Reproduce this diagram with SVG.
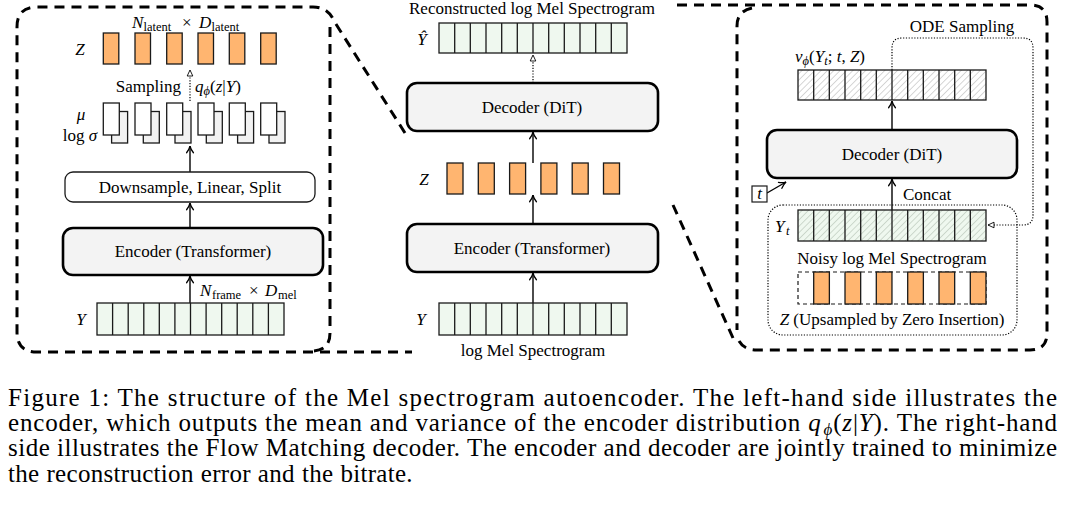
<svg xmlns="http://www.w3.org/2000/svg" width="1074" height="507" viewBox="0 0 1074 507">
<style>
.t{font-family:"Liberation Serif","Times New Roman",serif;font-size:17px;fill:#000}
.i{font-style:italic}
.s{font-size:12.5px}
.cap{font-family:"Liberation Serif","Times New Roman",serif;font-size:25px;fill:#000}
.panel{fill:none;stroke:#000;stroke-width:3;stroke-dasharray:10 7}
.cell{stroke:#1a1a1a;stroke-width:1.3}
.green{fill:#EFF8EF}
.orange{fill:#FFB570;stroke:#1a1a1a;stroke-width:1.3}
.big{fill:#F3F3F3;stroke:#000;stroke-width:2.6}
.div{fill:none;stroke:#1a1a1a;stroke-width:1.3}
.arr{fill:none;stroke:#000;stroke-width:1.4;marker-end:url(#arr)}
.dot{fill:none;stroke:#000;stroke-width:1.2;stroke-dasharray:1.2 1.6}
.dota{fill:none;stroke:#000;stroke-width:1.2;stroke-dasharray:1.2 1.6;marker-end:url(#tri)}
</style>
<defs>
<marker id="arr" viewBox="0 0 10 10" refX="9.5" refY="5" markerWidth="9" markerHeight="9" orient="auto" markerUnits="userSpaceOnUse">
<path d="M2,1.2 Q6,4.2 9.5,5 Q6,5.8 2,8.8" fill="none" stroke="#000" stroke-width="1.4" stroke-linecap="round"/>
</marker>
<marker id="tri" viewBox="0 0 10 10" refX="9" refY="5" markerWidth="8" markerHeight="8" orient="auto" markerUnits="userSpaceOnUse">
<path d="M1.5,1.5 L9,5 L1.5,8.5 Z" fill="#fff" stroke="#000" stroke-width="1.1"/>
</marker>
<pattern id="hatch" width="4.5" height="4.5" patternUnits="userSpaceOnUse" patternTransform="rotate(45)">
<line x1="0" y1="0" x2="0" y2="4.5" stroke="#9a9a9a" stroke-width="0.8"/>
</pattern>
<pattern id="hatchg" width="4.5" height="4.5" patternUnits="userSpaceOnUse" patternTransform="rotate(45)">
<line x1="0" y1="0" x2="0" y2="4.5" stroke="#9aa89a" stroke-width="0.8"/>
</pattern>
</defs>

<g id="panels">
<path class="panel" d="M405,133 L334,21 Q328,7 313,7 H37 Q17,7 17,27 V332 Q17,352 37,352 H412"/>
<path class="panel" d="M330,27 V333 Q330,350 313,351"/>
<path class="panel" d="M677,5 H1030 Q1047,5 1047,22 V333 Q1047,350 1030,350 H757 Q741,350 737,336"/>
<path class="panel" d="M752,8 Q737,11 737,26 V330"/>
<path class="panel" d="M673,205 L733,338"/>
</g>

<g id="connectors">
<path class="arr" d="M190,303 V276"/>
<path class="arr" d="M190,228 V203"/>
<path class="arr" d="M190,172 V146"/>
<path class="dota" d="M190,101 V70"/>
<path class="arr" d="M533,303 V273"/>
<path class="arr" d="M533,224 V195"/>
<path class="arr" d="M533,163 V132"/>
<path class="dota" d="M533,83 V55"/>
<path class="arr" d="M892,210 V179"/>
<path class="arr" d="M892,130 V101"/>
<path class="arr" d="M767,193 L786,182"/>
<path class="dota" d="M892,70 V48 Q892,38 902,38 H1023 Q1033,38 1033,48 V215 Q1033,225 1023,225 H988"/>
</g>

<g id="left-latent">
<text class="t"><tspan x="132" y="28" class="i">N</tspan><tspan x="143.5" y="31" class="s">latent</tspan><tspan x="182" y="28">×</tspan><tspan x="199" y="28" class="i">D</tspan><tspan x="211.5" y="31" class="s">latent</tspan></text>
<text class="t i" x="80" y="55" text-anchor="middle">Z</text>
<rect class="orange" x="103.3" y="33" width="15.5" height="31"/>
<rect class="orange" x="135" y="33" width="15.5" height="31"/>
<rect class="orange" x="166.7" y="33" width="15.5" height="31"/>
<rect class="orange" x="198" y="33" width="15.5" height="31"/>
<rect class="orange" x="229.3" y="33" width="15.5" height="31"/>
<rect class="orange" x="260.7" y="33" width="15.5" height="31"/>
</g>

<g id="left-sampling">
<text class="t" x="181" y="92" text-anchor="end">Sampling</text>
<text class="t" x="195" y="92"><tspan class="i">q</tspan><tspan class="s i" dy="3">ϕ</tspan><tspan dy="-3">(</tspan><tspan class="i">z</tspan>|<tspan class="i">Y</tspan>)</text>
</g>

<g id="left-musigma">
<text class="t i" x="81" y="120" text-anchor="middle">μ</text>
<text class="t" x="80" y="141" text-anchor="middle">log <tspan class="i">σ</tspan></text>
<g fill="#F2F2F2" stroke="#1a1a1a" stroke-width="1.3">
<rect x="111.6" y="111.5" width="16" height="31.5"/>
<rect x="143.3" y="111.5" width="16" height="31.5"/>
<rect x="175" y="111.5" width="16" height="31.5"/>
<rect x="206.3" y="111.5" width="16" height="31.5"/>
<rect x="237.6" y="111.5" width="16" height="31.5"/>
<rect x="269" y="111.5" width="16" height="31.5"/>
</g>
<g fill="#fff" stroke="#1a1a1a" stroke-width="1.3">
<rect x="103.3" y="103" width="16" height="32"/>
<rect x="135" y="103" width="16" height="32"/>
<rect x="166.7" y="103" width="16" height="32"/>
<rect x="198" y="103" width="16" height="32"/>
<rect x="229.3" y="103" width="16" height="32"/>
<rect x="260.7" y="103" width="16" height="32"/>
</g>
</g>

<g id="left-downsample">
<rect x="65" y="172" width="250" height="30" rx="8" fill="#fff" stroke="#1a1a1a" stroke-width="1.3"/>
<text class="t" x="190" y="193" text-anchor="middle">Downsample, Linear, Split</text>
</g>

<g id="left-encoder">
<rect class="big" x="63" y="228" width="260" height="47" rx="10"/>
<text class="t" x="193" y="257" text-anchor="middle">Encoder (Transformer)</text>
</g>

<g id="left-input">
<text class="t"><tspan x="200" y="296" class="i">N</tspan><tspan x="212" y="299" class="s">frame</tspan><tspan x="249" y="296">×</tspan><tspan x="265" y="296" class="i">D</tspan><tspan x="278" y="299" class="s">mel</tspan></text>
<text class="t i" x="81" y="325" text-anchor="middle">Y</text>
<rect class="cell green" x="97" y="303" width="187" height="32"/>
<path class="div" d="M112.6,303V335M128.2,303V335M143.8,303V335M159.3,303V335M174.9,303V335M190.5,303V335M206.1,303V335M221.7,303V335M237.2,303V335M252.8,303V335M268.4,303V335"/>
</g>

<g id="center-output">
<text class="t" x="532" y="13.5" text-anchor="middle">Reconstructed log Mel Spectrogram</text>
<text class="t i" x="422" y="45" text-anchor="middle">Ŷ</text>
<rect class="cell green" x="439" y="23" width="188" height="30"/>
<path class="div" d="M454.7,23V53M470.3,23V53M486,23V53M501.7,23V53M517.3,23V53M533,23V53M548.7,23V53M564.3,23V53M580,23V53M595.7,23V53M611.3,23V53"/>
</g>

<g id="center-decoder">
<rect class="big" x="407" y="83" width="251" height="48" rx="10"/>
<text class="t" x="532" y="113" text-anchor="middle">Decoder (DiT)</text>
</g>

<g id="center-latent">
<text class="t i" x="424" y="185" text-anchor="middle">Z</text>
<rect class="orange" x="447" y="163" width="16" height="31"/>
<rect class="orange" x="478.3" y="163" width="16" height="31"/>
<rect class="orange" x="509.6" y="163" width="16" height="31"/>
<rect class="orange" x="540.9" y="163" width="16" height="31"/>
<rect class="orange" x="572.2" y="163" width="16" height="31"/>
<rect class="orange" x="603.5" y="163" width="16" height="31"/>
</g>

<g id="center-encoder">
<rect class="big" x="407" y="224" width="251" height="48" rx="10"/>
<text class="t" x="532" y="254" text-anchor="middle">Encoder (Transformer)</text>
</g>

<g id="center-input">
<text class="t i" x="421" y="325" text-anchor="middle">Y</text>
<rect class="cell green" x="439" y="303" width="188" height="32"/>
<path class="div" d="M454.7,303V335M470.3,303V335M486,303V335M501.7,303V335M517.3,303V335M533,303V335M548.7,303V335M564.3,303V335M580,303V335M595.7,303V335M611.3,303V335"/>
<text class="t" x="533" y="356" text-anchor="middle">log Mel Spectrogram</text>
</g>

<g id="right-velocity">
<text class="t" x="962" y="32" text-anchor="middle">ODE Sampling</text>
<text class="t" x="795" y="62"><tspan class="i">v</tspan><tspan class="s i" dy="3">ϕ</tspan><tspan dy="-3">(</tspan><tspan class="i">Y</tspan><tspan class="s i" dy="3">t</tspan><tspan dy="-3">; </tspan><tspan class="i">t</tspan>, <tspan class="i">Z</tspan>)</text>
<rect x="798" y="70" width="188" height="30" fill="#fff"/>
<rect class="cell" x="798" y="70" width="188" height="30" fill="url(#hatch)"/>
<path class="div" d="M813.7,70V100M829.3,70V100M845,70V100M860.7,70V100M876.3,70V100M892,70V100M907.7,70V100M923.3,70V100M939,70V100M954.7,70V100M970.3,70V100"/>
</g>

<g id="right-decoder">
<rect class="big" x="767" y="130" width="250" height="48" rx="10"/>
<text class="t" x="892" y="160" text-anchor="middle">Decoder (DiT)</text>
</g>

<g id="right-t">
<rect x="752" y="186" width="15" height="16" fill="#fff" stroke="#1a1a1a" stroke-width="1.2"/>
<text class="t i" x="759.5" y="199" text-anchor="middle">t</text>
</g>

<g id="right-concat">
<text class="t" x="903" y="200">Concat</text>
<rect x="768" y="205" width="249" height="130" rx="15" class="dot"/>
<text class="t"><tspan x="775" y="232" class="i">Y</tspan><tspan x="786" y="235" class="s i">t</tspan></text>
<rect class="green" x="798" y="210" width="188" height="31"/>
<rect class="cell" x="798" y="210" width="188" height="31" fill="url(#hatchg)"/>
<path class="div" d="M813.7,210V241M829.3,210V241M845,210V241M860.7,210V241M876.3,210V241M892,210V241M907.7,210V241M923.3,210V241M939,210V241M954.7,210V241M970.3,210V241"/>
<text class="t" x="892" y="264" text-anchor="middle">Noisy log Mel Spectrogram</text>
<rect x="798" y="272" width="188" height="32" fill="none" stroke="#1a1a1a" stroke-width="1.2" stroke-dasharray="4 3"/>
<rect class="orange" x="813.7" y="272" width="15.67" height="32"/>
<rect class="orange" x="845" y="272" width="15.67" height="32"/>
<rect class="orange" x="876.3" y="272" width="15.67" height="32"/>
<rect class="orange" x="907.7" y="272" width="15.67" height="32"/>
<rect class="orange" x="939" y="272" width="15.67" height="32"/>
<rect class="orange" x="970.3" y="272" width="15.67" height="32"/>
<text class="t" x="892" y="325" text-anchor="middle"><tspan class="i">Z</tspan> (Upsampled by Zero Insertion)</text>
</g>

<g id="caption">
<text class="cap" x="8" y="405.5" textLength="1049" lengthAdjust="spacing">Figure 1: The structure of the Mel spectrogram autoencoder. The left-hand side illustrates the</text>
<text class="cap" x="8" y="431" textLength="1049" lengthAdjust="spacing">encoder, which outputs the mean and variance of the encoder distribution <tspan class="i">q</tspan><tspan class="i" font-size="17" dx="2" dy="4">ϕ</tspan><tspan dy="-4">(</tspan><tspan class="i">z</tspan>|<tspan class="i">Y</tspan>). The right-hand</text>
<text class="cap" x="8" y="456" textLength="1049" lengthAdjust="spacing">side illustrates the Flow Matching decoder. The encoder and decoder are jointly trained to minimize</text>
<text class="cap" x="8" y="481.5" letter-spacing="0.3" word-spacing="0.5">the reconstruction error and the bitrate.</text>
</g>
</svg>
